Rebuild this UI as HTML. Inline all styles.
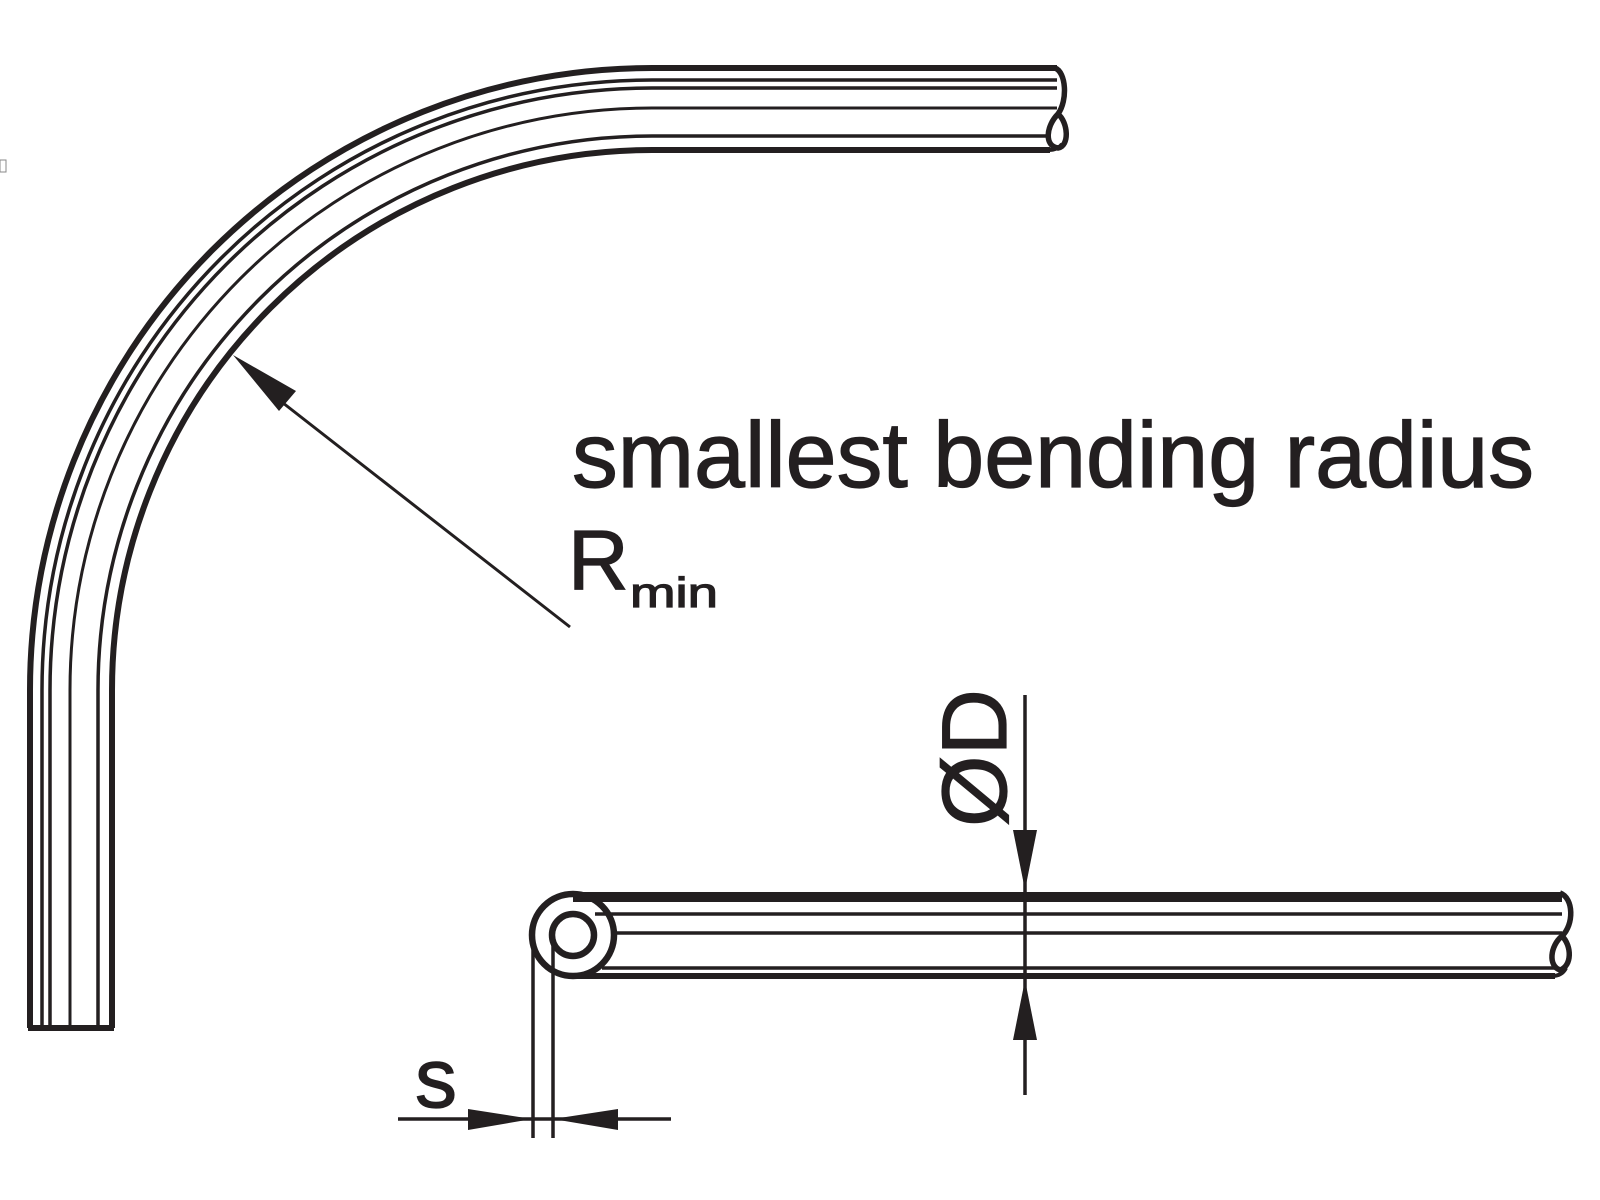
<!DOCTYPE html>
<html><head><meta charset="utf-8"><style>
html,body{margin:0;padding:0;background:#fff;}
svg{display:block;}
text{font-family:"Liberation Sans",Arial,sans-serif;fill:#231f20;stroke:#231f20;stroke-width:1.2;}
</style></head><body>
<svg width="1600" height="1200" viewBox="0 0 1600 1200" xmlns="http://www.w3.org/2000/svg">
<g fill="none" stroke="#231f20" stroke-linecap="butt">
  <!-- bent pipe -->
  <path d="M30 1028 V690 A622 622 0 0 1 652 68 H1057" stroke-width="6"/>
  <path d="M42 1028 V690 A610 610 0 0 1 652 80 H1057" stroke-width="3.5"/>
  <path d="M50 1028 V690 A602 602 0 0 1 652 88 H1057" stroke-width="3.5"/>
  <path d="M70 1028 V690 A582 582 0 0 1 652 108 H1057" stroke-width="3"/>
  <path d="M98 1028 V690 A554 554 0 0 1 652 136 H1050" stroke-width="3.5"/>
  <path d="M112 1028 V690 A540 540 0 0 1 652 150 H1050" stroke-width="6"/>
  <path d="M28 1028 H114" stroke-width="6"/>
  <!-- top end curl -->
  <path d="M1055 68 C1066 72 1068 100 1058 114 C1046 126 1044 146 1058 148 C1070 146 1068 122 1058 114" stroke-width="5.5"/>
  <path d="M1048 150 C1056 150 1060 147 1062 144" stroke-width="4"/>

  <!-- small pipe -->
  <path d="M573 897 H1562" stroke-width="10"/>
  <path d="M595 914 H1562" stroke-width="3.5"/>
  <path d="M612 933 H1562" stroke-width="3.5"/>
  <path d="M602 968 H1555" stroke-width="3.5"/>
  <path d="M573 976 H1555" stroke-width="6"/>
  <circle cx="573" cy="935" r="41" stroke-width="6.5"/>
  <circle cx="573" cy="935" r="21" stroke-width="6.5"/>
  <!-- right end curl -->
  <path d="M1560 893 C1574 898 1574 925 1562 936 C1550 946 1548 966 1560 970 C1572 966 1572 946 1562 936" stroke-width="5.5"/>
  <path d="M1552 976 C1560 976 1564 972 1566 968" stroke-width="4"/>

  <!-- s dimension -->
  <path d="M533 935 V1138" stroke-width="3.5"/>
  <path d="M553 935 V1138" stroke-width="3.5"/>
  <path d="M398 1119 H671" stroke-width="3.5"/>
  <!-- ØD dimension -->
  <path d="M1025 695 V1095" stroke-width="3.5"/>
  <!-- radius leader -->
  <path d="M570 627 L260 385" stroke-width="3"/>
</g>
<g fill="#231f20">
  <polygon points="532,1119 468,1109 468,1130"/>
  <polygon points="553,1119 618,1109 618,1130"/>
  <polygon points="1025,890 1013,830 1037,830"/>
  <polygon points="1025,980 1013,1040 1037,1040"/>
  <polygon points="233,355 296,391 279,411"/>
</g>
<text x="572" y="487" font-size="93" textLength="962" lengthAdjust="spacingAndGlyphs">smallest bending radius</text>
<text x="568" y="589" font-size="84">R</text>
<text x="630" y="607" font-size="42" textLength="88" lengthAdjust="spacingAndGlyphs">min</text>
<text x="415" y="1107" font-size="84">s</text>
<text transform="translate(1006,758) rotate(-90)" x="0" y="0" font-size="92" text-anchor="middle">ØD</text>
<rect x="0" y="160" width="6" height="12" fill="none" stroke="#888" stroke-width="1"/>
</svg>
</body></html>
